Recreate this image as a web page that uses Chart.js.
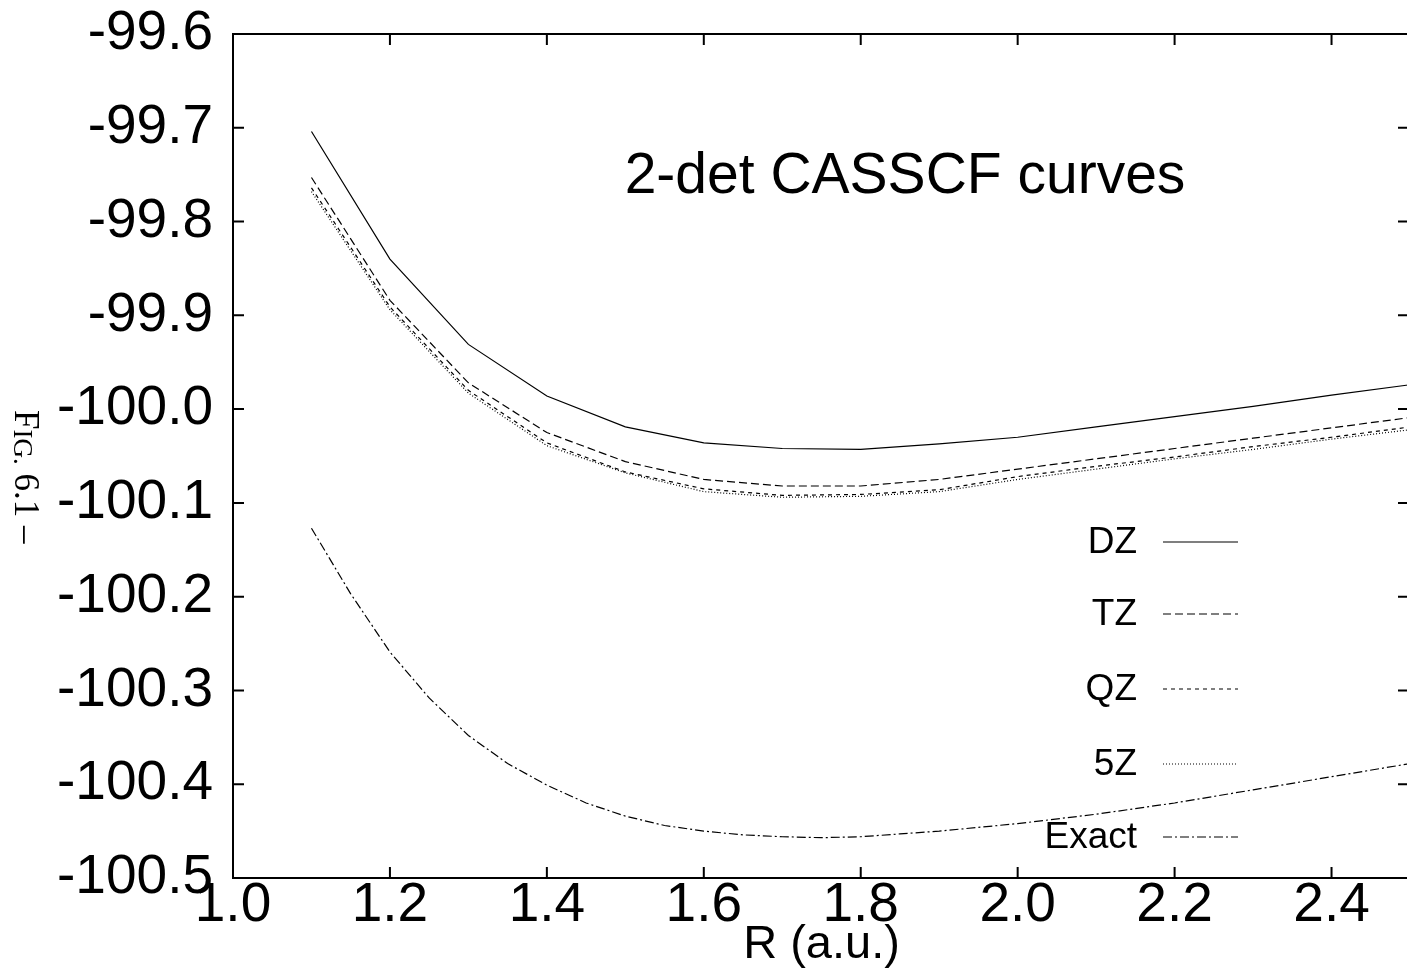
<!DOCTYPE html>
<html>
<head>
<meta charset="utf-8">
<title>2-det CASSCF curves</title>
<script src="https://cdn.jsdelivr.net/npm/chart.js@4"></script>
<style>
  html, body { margin: 0; padding: 0; background: #fff; overflow: hidden; }
  #wrap { width: 1410px; height: 973px; position: relative; }
</style>
</head>
<body>
<div id="wrap"><canvas id="chart"></canvas></div>
<script>
/* ---- data ---- */
// basis-set curves, sampled every 0.1 a.u.
const R = [1.1, 1.2, 1.3, 1.4, 1.5, 1.6, 1.7, 1.8, 1.9, 2.0, 2.1, 2.2, 2.3, 2.4, 2.5];
const dz = [-99.704, -99.840, -99.931, -99.986, -100.019, -100.036, -100.042, -100.043, -100.037, -100.030, -100.019, -100.008, -99.997, -99.985, -99.974];
const tz = [-99.753, -99.884, -99.972, -100.025, -100.056, -100.075, -100.082, -100.082, -100.075, -100.064, -100.053, -100.042, -100.031, -100.020, -100.009];
const qz = [-99.764, -99.891, -99.980, -100.036, -100.067, -100.085, -100.092, -100.091, -100.086, -100.072, -100.061, -100.051, -100.040, -100.030, -100.019];
const z5 = [-99.768, -99.894, -99.983, -100.039, -100.068, -100.088, -100.094, -100.093, -100.088, -100.075, -100.064, -100.053, -100.043, -100.032, -100.022];

// exact curve is smooth in the reference -> read on a finer grid
const rExact = [1.10, 1.15, 1.20, 1.25, 1.30, 1.35, 1.40, 1.45, 1.50, 1.55, 1.60, 1.65, 1.70, 1.75, 1.80, 1.85, 1.90, 2.0, 2.1, 2.2, 2.3, 2.4, 2.5];
const exact = [-100.127, -100.197, -100.259, -100.308, -100.348, -100.378, -100.401, -100.420, -100.434, -100.444, -100.450, -100.454, -100.456, -100.457, -100.456, -100.453, -100.450, -100.442, -100.432, -100.420, -100.406, -100.392, -100.378];

const seriesNames = ['DZ', 'TZ', 'QZ', '5Z', 'Exact'];
const xTicks = [1.0, 1.2, 1.4, 1.6, 1.8, 2.0, 2.2, 2.4];
const yTicks = [-99.6, -99.7, -99.8, -99.9, -100.0, -100.1, -100.2, -100.3, -100.4, -100.5];

const FONT = '"Liberation Sans", Arial, Helvetica, sans-serif';

const toPoints = (xs, ys) => xs.map((x, i) => ({ x, y: ys[i] }));

// line styles per curve (gnuplot-like)
const dashes = [[], [8, 4], [4, 4], [1, 2], [9, 3, 2, 3]];

/** Frame + inward ticks on all four sides, title, legend, side caption */
const decorPlugin = {
  id: 'decor',
  afterDraw(chart) {
    const { ctx, chartArea: a, scales } = chart;
    ctx.save();
    ctx.strokeStyle = '#000';
    ctx.lineWidth = 2;
    ctx.strokeRect(a.left, a.top, a.right - a.left, a.bottom - a.top);

    const tl = 11;
    ctx.beginPath();
    scales.x.ticks.forEach(t => {
      const px = scales.x.getPixelForValue(t.value);
      ctx.moveTo(px, a.bottom); ctx.lineTo(px, a.bottom - tl);
      ctx.moveTo(px, a.top); ctx.lineTo(px, a.top + tl);
    });
    scales.y.ticks.forEach(t => {
      const py = scales.y.getPixelForValue(t.value);
      ctx.moveTo(a.left, py); ctx.lineTo(a.left + tl, py);
      ctx.moveTo(1407, py); ctx.lineTo(1407 - tl + 2, py);
    });
    ctx.stroke();

    // plot title inside the frame
    ctx.fillStyle = '#000';
    ctx.font = '57px ' + FONT;
    ctx.textAlign = 'center';
    ctx.textBaseline = 'middle';
    ctx.fillText('2-det CASSCF curves', 905, 177);

    // legend: label right-aligned, sample line to the right
    ctx.font = '37px ' + FONT;
    ctx.textAlign = 'right';
    const rows = [543, 615, 690, 765, 838];
    chart.data.datasets.forEach((ds, i) => {
      ctx.fillText(ds.label, 1137, rows[i]);
      ctx.beginPath();
      ctx.lineWidth = 1.2;
      ctx.setLineDash(ds.borderDash || []);
      ctx.moveTo(1163, rows[i] - 1);
      ctx.lineTo(1238, rows[i] - 1);
      ctx.stroke();
    });
    ctx.setLineDash([]);

    // rotated figure caption at the far left
    ctx.translate(24, 410);
    ctx.rotate(Math.PI / 2);
    ctx.textAlign = 'left';
    ctx.textBaseline = 'middle';
    let x = 0;
    const parts = [['F', 35], ['IG.', 27], [' 6.1 \u2013', 35]];
    parts.forEach(([s, size]) => {
      ctx.font = size + 'px "Liberation Serif", "Times New Roman", serif';
      ctx.fillText(s, x, size === 27 ? 3 : 0);
      x += ctx.measureText(s).width;
    });
    ctx.restore();
  }
};

new Chart(document.getElementById('chart'), {
  type: 'line',
  data: {
    datasets: [[R, dz], [R, tz], [R, qz], [R, z5], [rExact, exact]].map(([xs, ys], i) => ({
      label: seriesNames[i],
      data: toPoints(xs, ys),
      borderColor: '#000',
      borderWidth: 1.2,
      borderDash: dashes[i],
      pointRadius: 0,
      tension: 0,
      fill: false
    }))
  },
  options: {
    responsive: true,
    maintainAspectRatio: false,
    animation: false,
    layout: { padding: { top: 34, right: 0, left: 0, bottom: 0 } },
    plugins: {
      legend: { display: false },
      tooltip: { enabled: false }
    },
    scales: {
      x: {
        type: 'linear',
        min: 1.0,
        max: 2.5,
        afterBuildTicks: (s) => { s.ticks = xTicks.map(v => ({ value: v })); },
        afterFit: (s) => { s.height = 95; s.paddingLeft = 0; s.paddingRight = 0; },
        grid: { display: false, drawTicks: false },
        border: { display: false },
        ticks: {
          color: '#000',
          padding: 0,
          maxRotation: 0,
          autoSkip: false,
          font: { family: FONT, size: 55, lineHeight: 1 },
          callback: (v) => Number(v).toFixed(1)
        },
        title: {
          display: true,
          text: 'R (a.u.)',
          color: '#000',
          padding: 0,
          font: { family: FONT, size: 47 }
        }
      },
      y: {
        type: 'linear',
        min: -100.5,
        max: -99.6,
        afterBuildTicks: (s) => { s.ticks = yTicks.map(v => ({ value: v })); },
        afterFit: (s) => { s.width = 233; s.paddingTop = 0; s.paddingBottom = 0; },
        grid: { display: false, drawTicks: false },
        border: { display: false },
        ticks: {
          color: '#000',
          padding: 20,
          autoSkip: false,
          font: { family: FONT, size: 55 },
          callback: (v) => Number(v).toFixed(1)
        }
      }
    }
  },
  plugins: [decorPlugin]
});
</script>
</body>
</html>
